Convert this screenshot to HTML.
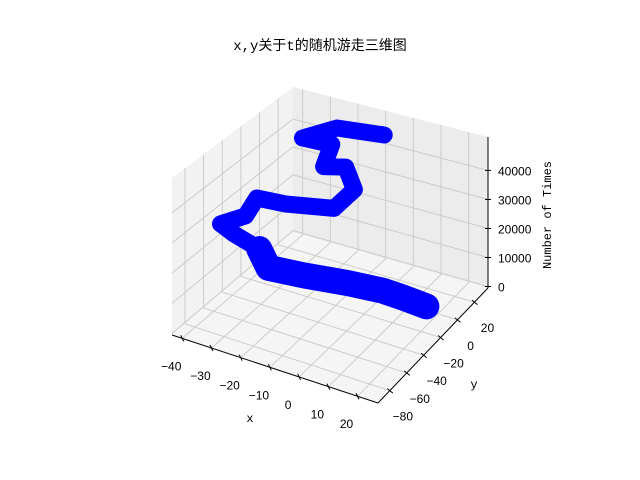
<!DOCTYPE html>
<html><head><meta charset="utf-8"><style>
body{margin:0;background:#fff;}
svg{display:block;font-family:"Liberation Sans","Noto Sans CJK SC",sans-serif;}
.mono{font-family:"Liberation Mono","Noto Sans CJK SC",monospace;}
</style></head><body>
<svg id="chart" width="640" height="480" viewBox="0 0 640 480" xmlns="http://www.w3.org/2000/svg">
<rect width="640" height="480" fill="#fff"/>
<text x="320" y="50" text-anchor="middle" font-size="14" class="mono">x,y关于t的随机游走三维图</text>
<g id="panes"></g><g id="grid"></g><g id="walk"></g><g id="axes"></g>
<text x="250" y="422" text-anchor="middle" font-size="12" class="mono">x</text>
<text x="474" y="388" text-anchor="middle" font-size="12" class="mono">y</text>
<text x="551" y="215" text-anchor="middle" font-size="12" class="mono" transform="rotate(-90 551 215)">Number of Times</text>
</svg>
<script>
const xTicks=[-40,-30,-20,-10,0,10,20];
const yTicks=[-80,-60,-40,-20,0,20];
const zTicks=[0,10000,20000,30000,40000];
const zTickLabels=["0","10000","20000","30000","40000"];
const walkX=[15.2,7.7,2.2,-6.7,-18.3,-27,-32.4,-42.2,-46.6,-39.9,-40.9,-29.6,-12.7,-10.3,-17,-21.3,-23.5,-31.6,-22.8,-3.9];
const walkY=[2.3,-1.2,-5.8,-16.4,-29.7,-41,-34.2,-32.3,-32.4,-25.9,-10.8,-14.2,-13.5,1.9,13.1,1.9,17.8,10.4,21.4,15.3];
const walkT=[0,2000,4000,7000,10000,13000,16000,18000,20000,23000,25000,27000,30000,33000,36000,38000,41000,43000,46000,50000];
const XR=[-43.5,27],YR=[-94,36],ZR=[-500,51500];
const C={L:[172,335],F:[378,403],R:[488,288],B:[293,232]};
const H={L:157,F:163,R:151,B:145};
function proj(x,y,z){
  const fx=(x-XR[0])/(XR[1]-XR[0]),fy=(y-YR[0])/(YR[1]-YR[0]),fz=(z-ZR[0])/(ZR[1]-ZR[0]);
  const w=[(1-fx)*(1-fy),fx*(1-fy),fx*fy,(1-fx)*fy];
  const k=['L','F','R','B'];
  let sx=0,sy=0,h=0;
  for(let i=0;i<4;i++){sx+=w[i]*C[k[i]][0];sy+=w[i]*C[k[i]][1];h+=w[i]*H[k[i]];}
  return [sx,sy-fz*h];
}
const NS='http://www.w3.org/2000/svg';
function mk(tag,attrs,parent){const e=document.createElementNS(NS,tag);for(const a in attrs)e.setAttribute(a,attrs[a]);document.getElementById(parent).appendChild(e);return e;}
function pts(a){return a.map(p=>p[0].toFixed(1)+','+p[1].toFixed(1)).join(' ');}
function line(p,q,attrs,parent){return mk('line',Object.assign({x1:p[0],y1:p[1],x2:q[0],y2:q[1]},attrs),parent);}
let e;
e=mk('polygon',{points:pts([proj(XR[0],YR[0],ZR[0]),proj(XR[1],YR[0],ZR[0]),proj(XR[1],YR[1],ZR[0]),proj(XR[0],YR[1],ZR[0])]),fill:'#f5f5f5'},'panes');


e=mk('polygon',{points:pts([proj(XR[0],YR[0],ZR[0]),proj(XR[0],YR[1],ZR[0]),proj(XR[0],YR[1],ZR[1]),proj(XR[0],YR[0],ZR[1])]),fill:'#f2f2f2'},'panes');


e=mk('polygon',{points:pts([proj(XR[0],YR[1],ZR[0]),proj(XR[1],YR[1],ZR[0]),proj(XR[1],YR[1],ZR[1]),proj(XR[0],YR[1],ZR[1])]),fill:'#ececec'},'panes');


const g={stroke:'#c8c8c8','stroke-width':0.9};
xTicks.forEach(x=>{
  e=line(proj(x,YR[0],ZR[0]),proj(x,YR[1],ZR[0]),g,'grid');
  
  
  e=line(proj(x,YR[1],ZR[0]),proj(x,YR[1],ZR[1]),g,'grid');
  
  
});
yTicks.forEach(y=>{
  e=line(proj(XR[0],y,ZR[0]),proj(XR[1],y,ZR[0]),g,'grid');
  
  
  e=line(proj(XR[0],y,ZR[0]),proj(XR[0],y,ZR[1]),g,'grid');
  
  
});
zTicks.forEach(z=>{
  e=line(proj(XR[0],YR[0],z),proj(XR[0],YR[1],z),g,'grid');
  
  
  e=line(proj(XR[0],YR[1],z),proj(XR[1],YR[1],z),g,'grid');
  
  
});
const wp=walkX.map((x,i)=>proj(x,walkY[i],walkT[i]));
e=mk('polyline',{points:pts(wp),fill:'none',stroke:'#0000ff','stroke-width':17,'stroke-linejoin':'round','stroke-linecap':'round'},'walk');


e=mk('polyline',{points:pts(wp.slice(0,7)),fill:'none',stroke:'#0000ff','stroke-width':26,'stroke-linejoin':'round','stroke-linecap':'round'},'walk');


const ax={stroke:'#000','stroke-width':1};
e=line(proj(XR[0],YR[0],ZR[0]),proj(XR[1],YR[0],ZR[0]),ax,'axes');


e=line(proj(XR[1],YR[0],ZR[0]),proj(XR[1],YR[1],ZR[0]),ax,'axes');


e=line(proj(XR[1],YR[1],ZR[0]),proj(XR[1],YR[1],ZR[1]),ax,'axes');


xTicks.forEach(x=>{
  const p=proj(x,YR[0],ZR[0]);
  e=line([p[0]-1.5,p[1]-3],[p[0]+1.5,p[1]+3],ax,'axes');
  
  
  e=mk('text',{x:p[0]-11,y:p[1]+32,'text-anchor':'middle','font-size':12},'axes');
  e.textContent=String(x).replace('-','\u2212');
  
  
});
yTicks.forEach(y=>{
  const p=proj(XR[1],y,ZR[0]);
  e=line([p[0]-2.5,p[1]-2],[p[0]+3,p[1]+2.5],ax,'axes');
  
  
  e=mk('text',{x:p[0]+13,y:p[1]+30,'text-anchor':'middle','font-size':12},'axes');
  e.textContent=String(y).replace('-','\u2212');
  
  
});
zTicks.forEach((z,i)=>{
  const p=proj(XR[1],YR[1],z);
  e=line([p[0]-3,p[1]],[p[0]+3,p[1]],ax,'axes');
  
  
  e=mk('text',{x:p[0]+10,y:p[1]+5,'font-size':12},'axes');
  e.textContent=zTickLabels[i];
  
  
});
</script>
</body></html>
